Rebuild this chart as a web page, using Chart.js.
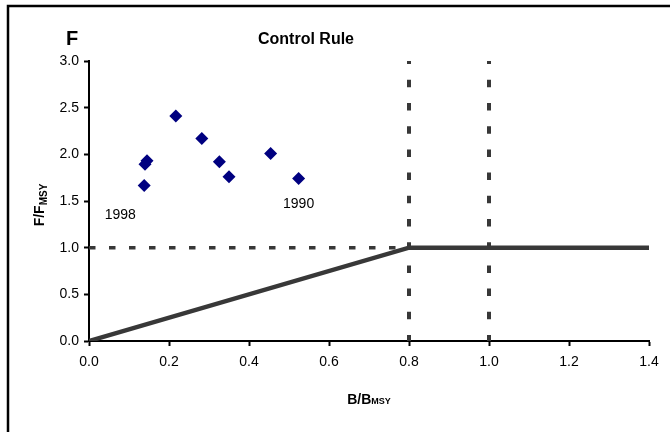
<!DOCTYPE html>
<html>
<head>
<meta charset="utf-8">
<title>Control Rule</title>
<script src="https://cdn.jsdelivr.net/npm/chart.js@4"></script>
<style>
    body { margin: 0; background: #fff; }
    #wrap { width: 670px; height: 432px; }
</style>
</head>
<body>
<div id="wrap"><canvas id="ruleChart" width="670" height="432"></canvas></div>
<script>
// stock status by year: biomass and fishing mortality relative to MSY levels
const years = [1990, 1991, 1992, 1993, 1994, 1995, 1996, 1997, 1998];
const bRatio = [0.524, 0.454, 0.35, 0.326, 0.282, 0.217, 0.145, 0.14, 0.138];
const fRatio = [1.74, 2.01, 1.76, 1.92, 2.17, 2.41, 1.93, 1.895, 1.665];
const labelledYears = [1990, 1998];

// harvest control rule
const ruleB = [0, 0.8, 1.4];
const ruleF = [0, 1.0, 1.0];
const fTarget = 1.0;
const bLimits = [0.8, 1.0];

const xTicks = [0, 0.2, 0.4, 0.6, 0.8, 1.0, 1.2, 1.4];
const yTicks = [0, 0.5, 1.0, 1.5, 2.0, 2.5, 3.0];

const FONT = 'Arial, "Liberation Sans", sans-serif';
const LINE = '#383838';

function pts(xs, ys) {
    return xs.map((x, i) => ({ x: x, y: ys[i] }));
}

const dashedBase = {
    showLine: true,
    pointRadius: 0,
    borderColor: LINE,
    fill: false
};

const yMax = yTicks[yTicks.length - 1];
const refLines = [
    Object.assign({
        data: [{ x: 0, y: fTarget }, { x: ruleB[1], y: fTarget }],
        borderWidth: 3.5,
        borderDash: [6.5, 13.5]
    }, dashedBase),
    ...bLimits.map(b => Object.assign({
        data: [{ x: b, y: 0 }, { x: b, y: yMax }],
        borderWidth: 4,
        borderDash: [7.5, 15.7],
        borderDashOffset: 1.5
    }, dashedBase))
];

// frame, headings, axis titles with subscripts and year labels
const decorations = {
    id: 'decorations',
    beforeDraw(chart) {
        const ctx = chart.ctx;
        ctx.save();
        ctx.strokeStyle = '#000';
        ctx.lineWidth = 2.5;
        ctx.beginPath();
        ctx.moveTo(8, 440);
        ctx.lineTo(8, 6);
        ctx.lineTo(680, 6);
        ctx.stroke();
        ctx.restore();
    },
    afterDraw(chart) {
        const ctx = chart.ctx;
        const xs = chart.scales.x;
        const ys = chart.scales.y;
        const area = chart.chartArea;
        ctx.save();
        ctx.fillStyle = '#000';
        ctx.textBaseline = 'alphabetic';

        ctx.font = 'bold 20px ' + FONT;
        ctx.textAlign = 'left';
        ctx.fillText('F', 66, 45);

        ctx.font = 'bold 16px ' + FONT;
        ctx.textAlign = 'center';
        ctx.fillText('Control Rule', 306, 44);

        // x axis title: B/B with small MSY
        ctx.textAlign = 'left';
        ctx.font = 'bold 14px ' + FONT;
        const main = 'B/B';
        const w1 = ctx.measureText(main).width;
        ctx.font = 'bold 9px ' + FONT;
        const w2 = ctx.measureText('MSY').width;
        let x0 = (area.left + area.right) / 2 - (w1 + w2) / 2;
        ctx.font = 'bold 14px ' + FONT;
        ctx.fillText(main, x0, 404);
        ctx.font = 'bold 9px ' + FONT;
        ctx.fillText('MSY', x0 + w1, 404);

        // y axis title: F/F with subscript MSY
        ctx.translate(44, 205);
        ctx.rotate(-Math.PI / 2);
        ctx.font = 'bold 14px ' + FONT;
        const v1 = ctx.measureText('F/F').width;
        ctx.font = 'bold 10px ' + FONT;
        const v2 = ctx.measureText('MSY').width;
        x0 = -(v1 + v2) / 2;
        ctx.font = 'bold 14px ' + FONT;
        ctx.fillText('F/F', x0, 0);
        ctx.font = 'bold 10px ' + FONT;
        ctx.fillText('MSY', x0 + v1, 3);
        ctx.setTransform(1, 0, 0, 1, 0, 0);

        // year labels under the first and last points
        ctx.font = '14px ' + FONT;
        ctx.textAlign = 'center';
        labelledYears.forEach(yr => {
            const i = years.indexOf(yr);
            const px = xs.getPixelForValue(bRatio[i]);
            const py = ys.getPixelForValue(fRatio[i]);
            const dx = yr === 1998 ? -24 : 0;
            const dy = yr === 1998 ? 33 : 29;
            ctx.fillText(String(yr), px + dx, py + dy);
        });
        ctx.restore();
    }
};

const axisCommon = {
    type: 'linear',
    border: { display: true, color: '#000', width: 2 },
    grid: {
        drawOnChartArea: false,
        drawTicks: true,
        tickLength: 5,
        tickWidth: 2,
        tickColor: '#000'
    }
};

new Chart(document.getElementById('ruleChart').getContext('2d'), {
    type: 'scatter',
    data: {
        datasets: [
            {
                label: 'Stock status',
                data: pts(bRatio, fRatio),
                pointStyle: 'rectRot',
                pointRadius: 6.5,
                backgroundColor: '#000080',
                borderColor: '#000080',
                borderWidth: 0
            },
            {
                label: 'Control rule',
                data: pts(ruleB, ruleF),
                showLine: true,
                pointRadius: 0,
                borderColor: LINE,
                borderWidth: 4.5,
                fill: false
            },
            ...refLines
        ]
    },
    options: {
        responsive: false,
        animation: false,
        layout: { padding: { left: 0, top: 61, right: 21, bottom: 0 } },
        plugins: {
            legend: { display: false },
            tooltip: { enabled: false },
            title: { display: false }
        },
        scales: {
            x: Object.assign({}, axisCommon, {
                min: xTicks[0],
                max: xTicks[xTicks.length - 1],
                afterBuildTicks: s => { s.ticks = xTicks.map(v => ({ value: v })); },
                afterFit: s => { s.height = 91; },
                ticks: {
                    color: '#000',
                    padding: 8,
                    font: { family: FONT, size: 14 },
                    callback: v => Number(v).toFixed(1)
                }
            }),
            y: Object.assign({}, axisCommon, {
                min: yTicks[0],
                max: yMax,
                afterBuildTicks: s => { s.ticks = yTicks.map(v => ({ value: v })); },
                afterFit: s => { s.width = 89; },
                ticks: {
                    color: '#000',
                    padding: 5,
                    font: { family: FONT, size: 14 },
                    callback: v => Number(v).toFixed(1)
                }
            })
        }
    },
    plugins: [decorations]
});
</script>
</body>
</html>
